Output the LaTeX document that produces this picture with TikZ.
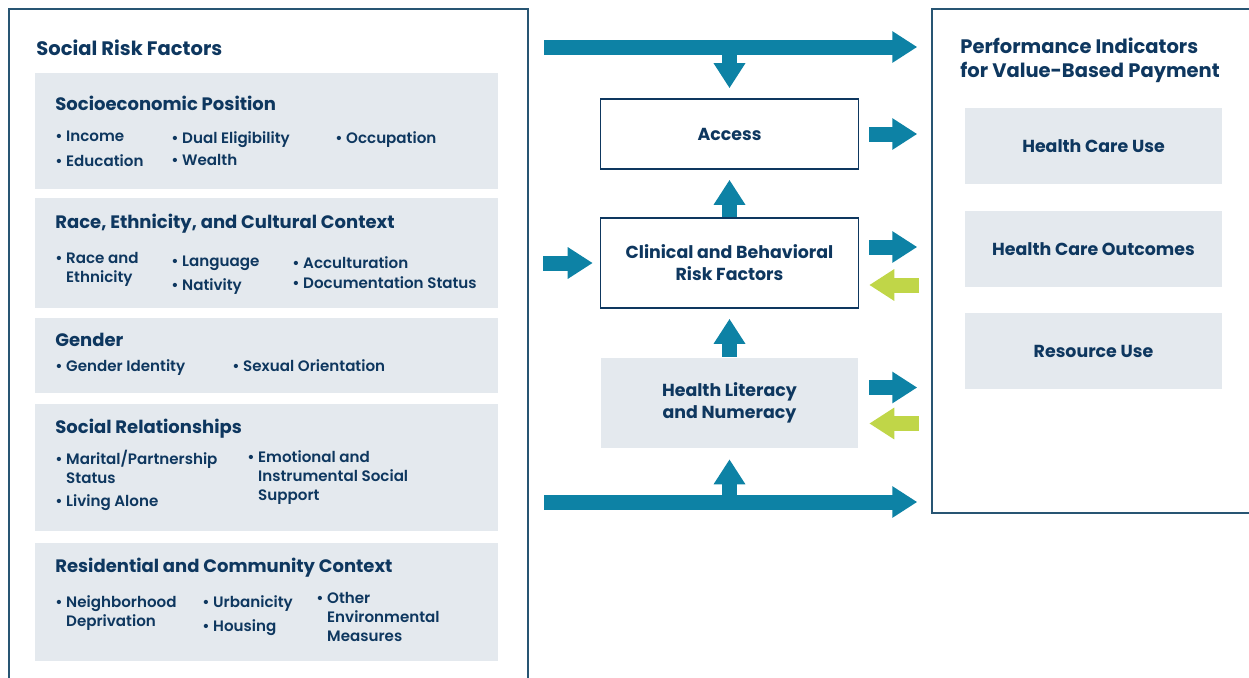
\documentclass[tikz,border=0pt]{standalone}
\usepackage{fontspec}
\IfFontExistsTF{Poppins SemiBold}
  {\setmainfont{Poppins}[UprightFont=* SemiBold, BoldFont=* Bold]}
  {\setmainfont{Poppins}}
\usetikzlibrary{arrows.meta, positioning}
\definecolor{NavyText}{RGB}{14,55,95}
\definecolor{FrameBlue}{RGB}{40,85,115}
\definecolor{FlowTeal}{RGB}{13,130,165}
\definecolor{FeedGreen}{RGB}{192,214,72}
\definecolor{PanelGrey}{RGB}{228,233,238}

\begin{document}
\begin{tikzpicture}[x=0.02cm, y=-0.02cm,
    frame/.style={draw=FrameBlue, line width=0.9pt, inner sep=0pt},
    panel/.style={fill=PanelGrey, inner sep=0pt, minimum width=9.26cm},
    stage/.style={draw=NavyText, line width=0.9pt, fill=white, minimum width=5.16cm, align=center, font=\bfseries\fontsize{9.9}{12.5}\selectfont, text=NavyText},
    title/.style={anchor=west, align=left, inner sep=0pt, font=\bfseries\fontsize{11.1}{13.6}\selectfont, text=NavyText},
    head/.style={anchor=west, inner sep=0pt, font=\bfseries\fontsize{10.25}{12}\selectfont, text=NavyText},
    item/.style={anchor=north west, align=left, inner sep=0pt, font=\fontsize{8.6}{10.8}\selectfont, text=NavyText},
    outcome/.style={fill=PanelGrey, inner sep=0pt, minimum width=5.14cm, minimum height=1.52cm, font=\bfseries\fontsize{9.9}{12}\selectfont, text=NavyText},
    flow/.style={draw=FlowTeal, line width=0.3cm, -{Triangle[width=0.6cm,length=0.5cm]}},
    feedback/.style={flow, draw=FeedGreen}
  ]
  \useasboundingbox (0,0) rectangle (1249,677);

  % outer frames
  \node (srf) [frame, minimum width=10.38cm, minimum height=13.82cm] at (268.5,354.5) {};
  \node (perf) [frame, minimum width=6.56cm, minimum height=10.08cm] at (1096,261) {};

  % social risk factors
  \node (srftitle) [title] at (36,48) {Social Risk Factors};

  \node (sep) [panel, minimum height=2.32cm] at (266.5,131) {};
  \node (sephead) [head] at (55,103) {Socioeconomic Position};
  \node (income) [item] at (55,131) {\textbullet\ Income};
  \node (educ) [item] at (55,154) {\textbullet\ Education};
  \node (dual) [item] at (171,131) {\textbullet\ Dual Eligibility};
  \node (wealth) [item] at (171,154) {\textbullet\ Wealth};
  \node (occup) [item] at (335,131) {\textbullet\ Occupation};

  \node (race) [panel, minimum height=2.2cm] at (266.5,253) {};
  \node (racehead) [head] at (55,224) {Race, Ethnicity, and Cultural Context};
  \node (raceeth) [item] at (55,252) {\textbullet\ Race and\\\phantom{\textbullet\ }Ethnicity};
  \node (lang) [item] at (171,256) {\textbullet\ Language};
  \node (nativ) [item] at (171,278) {\textbullet\ Nativity};
  \node (accult) [item] at (292,256) {\textbullet\ Acculturation};
  \node (docu) [item] at (292,276) {\textbullet\ Documentation Status};

  \node (gender) [panel, minimum height=1.5cm] at (266.5,355.5) {};
  \node (genderhead) [head] at (55,340) {Gender};
  \node (gident) [item] at (55,359) {\textbullet\ Gender Identity};
  \node (sexor) [item] at (232,359) {\textbullet\ Sexual Orientation};

  \node (social) [panel, minimum height=2.54cm] at (266.5,467.5) {};
  \node (socialhead) [head] at (55,429) {Social Relationships};
  \node (marital) [item] at (55,450) {\textbullet\ Marital/Partnership\\\phantom{\textbullet\ }Status};
  \node (alone) [item] at (55,494) {\textbullet\ Living Alone};
  \node (emot) [item] at (247,450) {\textbullet\ Emotional and\\\phantom{\textbullet\ }Instrumental Social\\\phantom{\textbullet\ }Support};

  \node (resid) [panel, minimum height=2.36cm] at (266.5,602) {};
  \node (residhead) [head] at (55,568) {Residential and Community Context};
  \node (neigh) [item] at (55,595) {\textbullet\ Neighborhood\\\phantom{\textbullet\ }Deprivation};
  \node (urban) [item] at (202,595) {\textbullet\ Urbanicity};
  \node (housing) [item] at (202,619) {\textbullet\ Housing};
  \node (other) [item] at (316,592) {\textbullet\ Other\\\phantom{\textbullet\ }Environmental\\\phantom{\textbullet\ }Measures};

  % pathway
  \node (access) [stage, minimum height=1.4cm] at (729.5,134) {Access};
  \node (clinical) [stage, minimum height=1.8cm] at (729.5,263) {Clinical and Behavioral\\Risk Factors};
  \node (literacy) [stage, draw=none, fill=PanelGrey, minimum height=1.82cm] at (729.5,403) {Health Literacy\\and Numeracy};

  % performance indicators
  \node (perftitle) [title] at (960,60) {Performance Indicators\\for Value-Based Payment};
  \node (use) [outcome] at (1093.5,146) {Health Care Use};
  \node (outc) [outcome] at (1093.5,249) {Health Care Outcomes};
  \node (resource) [outcome] at (1093.5,351) {Resource Use};

  % arrows
  \coordinate (topstart) at (544,47);
  \coordinate (botstart) at (544,502);
  \coordinate (riskin) at (543,263);
  \draw[flow, shorten >=0.28cm] (topstart) -- (topstart -| perf.west);
  \draw[flow, shorten >=0.2cm] (access.north |- topstart) -- (access.north);
  \draw[flow, shorten >=0.2cm] (clinical.north) -- (access.south);
  \draw[flow, shorten >=0.2cm] (literacy.north) -- (clinical.south);
  \draw[flow, shorten >=0.2cm] (literacy.south |- botstart) -- (literacy.south);
  \draw[flow, shorten >=0.28cm] (botstart) -- (botstart -| perf.west);
  \draw[flow, shorten >=0.14cm] (riskin) -- (riskin -| clinical.west);

  \draw[flow, shorten <=0.2cm, shorten >=0.28cm] (access.east) -- (access.east -| perf.west);
  \draw[flow, shorten <=0.2cm, shorten >=0.28cm] ([yshift=0.32cm]clinical.east) -- ([yshift=0.32cm]clinical.east -| perf.west);
  \draw[feedback, shorten <=0.24cm, shorten >=0.2cm] ([yshift=-0.44cm]clinical.east -| perf.west) -- ([yshift=-0.44cm]clinical.east);
  \draw[flow, shorten <=0.2cm, shorten >=0.28cm] ([yshift=0.31cm]literacy.east) -- ([yshift=0.31cm]literacy.east -| perf.west);
  \draw[feedback, shorten <=0.24cm, shorten >=0.2cm] ([yshift=-0.41cm]literacy.east -| perf.west) -- ([yshift=-0.41cm]literacy.east);
\end{tikzpicture}
\end{document}
